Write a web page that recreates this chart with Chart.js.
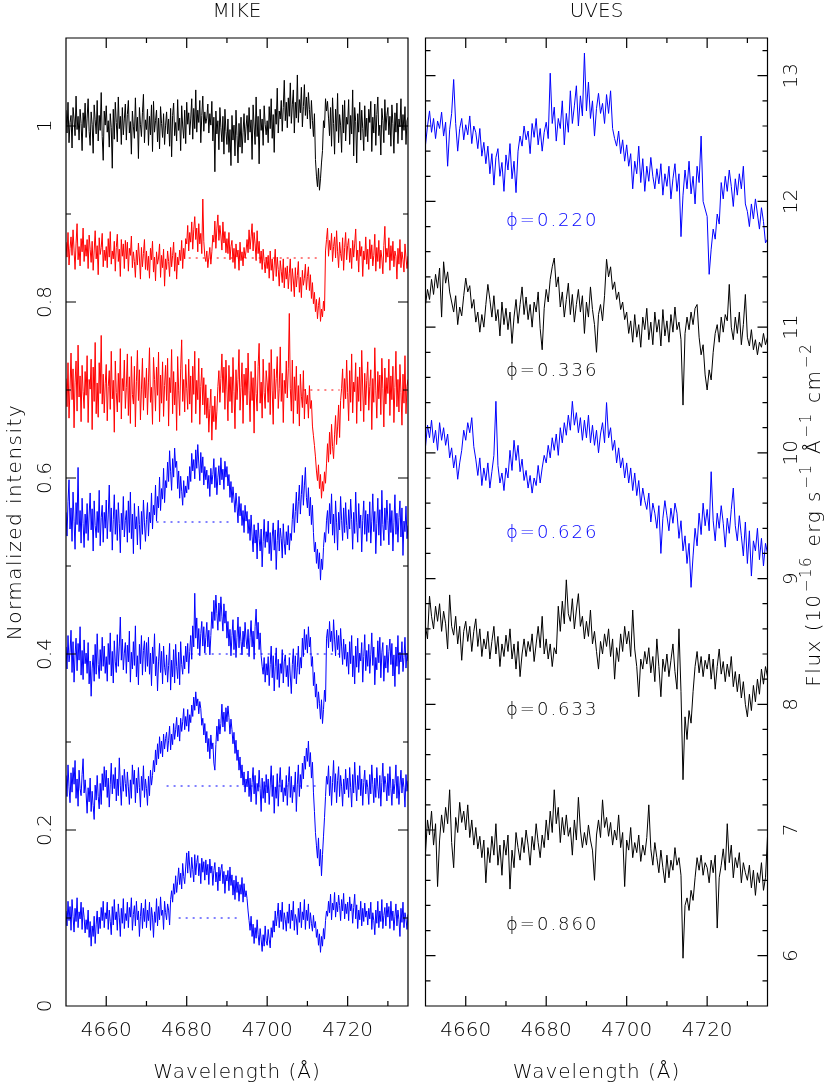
<!DOCTYPE html>
<html><head><meta charset="utf-8">
<script src="https://cdn.jsdelivr.net/npm/chart.js@4.4.1/dist/chart.umd.min.js"></script>
<style>
html,body{margin:0;padding:0;background:#fff;}
#wrap{position:relative;width:830px;height:1085px;}
canvas{position:absolute;left:0;top:0;}
</style></head><body>
<div id="wrap"><canvas id="mike" width="830" height="1085"></canvas><canvas id="uves" width="830" height="1085"></canvas></div>
<script>
// ---------------- DATA ----------------
// MIKE wavelength grid (Angstrom)
const mikeWavelength = [
4650,4650.25,4650.5,4650.75,4651,4651.25,4651.5,4651.75,4652,4652.25,4652.5,4652.75,4653,4653.25,4653.5,4653.75,4654,4654.25,4654.5,4654.75,
4655,4655.25,4655.5,4655.75,4656,4656.25,4656.5,4656.75,4657,4657.25,4657.5,4657.75,4658,4658.25,4658.5,4658.75,4659,4659.25,4659.5,4659.75,
4660,4660.25,4660.5,4660.75,4661,4661.25,4661.5,4661.75,4662,4662.25,4662.5,4662.75,4663,4663.25,4663.5,4663.75,4664,4664.25,4664.5,4664.75,
4665,4665.25,4665.5,4665.75,4666,4666.25,4666.5,4666.75,4667,4667.25,4667.5,4667.75,4668,4668.25,4668.5,4668.75,4669,4669.25,4669.5,4669.75,
4670,4670.25,4670.5,4670.75,4671,4671.25,4671.5,4671.75,4672,4672.25,4672.5,4672.75,4673,4673.25,4673.5,4673.75,4674,4674.25,4674.5,4674.75,
4675,4675.25,4675.5,4675.75,4676,4676.25,4676.5,4676.75,4677,4677.25,4677.5,4677.75,4678,4678.25,4678.5,4678.75,4679,4679.25,4679.5,4679.75,
4680,4680.25,4680.5,4680.75,4681,4681.25,4681.5,4681.75,4682,4682.25,4682.5,4682.75,4683,4683.25,4683.5,4683.75,4684,4684.25,4684.5,4684.75,
4685,4685.25,4685.5,4685.75,4686,4686.25,4686.5,4686.75,4687,4687.25,4687.5,4687.75,4688,4688.25,4688.5,4688.75,4689,4689.25,4689.5,4689.75,
4690,4690.25,4690.5,4690.75,4691,4691.25,4691.5,4691.75,4692,4692.25,4692.5,4692.75,4693,4693.25,4693.5,4693.75,4694,4694.25,4694.5,4694.75,
4695,4695.25,4695.5,4695.75,4696,4696.25,4696.5,4696.75,4697,4697.25,4697.5,4697.75,4698,4698.25,4698.5,4698.75,4699,4699.25,4699.5,4699.75,
4700,4700.25,4700.5,4700.75,4701,4701.25,4701.5,4701.75,4702,4702.25,4702.5,4702.75,4703,4703.25,4703.5,4703.75,4704,4704.25,4704.5,4704.75,
4705,4705.25,4705.5,4705.75,4706,4706.25,4706.5,4706.75,4707,4707.25,4707.5,4707.75,4708,4708.25,4708.5,4708.75,4709,4709.25,4709.5,4709.75,
4710,4710.25,4710.5,4710.75,4711,4711.25,4711.5,4711.75,4712,4712.25,4712.5,4712.75,4713,4713.25,4713.5,4713.75,4714,4714.25,4714.5,4714.75,
4715,4715.25,4715.5,4715.75,4716,4716.25,4716.5,4716.75,4717,4717.25,4717.5,4717.75,4718,4718.25,4718.5,4718.75,4719,4719.25,4719.5,4719.75,
4720,4720.25,4720.5,4720.75,4721,4721.25,4721.5,4721.75,4722,4722.25,4722.5,4722.75,4723,4723.25,4723.5,4723.75,4724,4724.25,4724.5,4724.75,
4725,4725.25,4725.5,4725.75,4726,4726.25,4726.5,4726.75,4727,4727.25,4727.5,4727.75,4728,4728.25,4728.5,4728.75,4729,4729.25,4729.5,4729.75,
4730,4730.25,4730.5,4730.75,4731,4731.25,4731.5,4731.75,4732,4732.25,4732.5,4732.75,4733,4733.25,4733.5,4733.75,4734,4734.25,4734.5,4734.75,
4735];

// MIKE normalized intensity (offset spectra, top to bottom)
const mike1 = [
1.018,0.992,1.027,0.981,1.004,1.012,0.975,1.021,1.008,0.989,1.034,0.996,1.011,0.984,1.019,1.003,0.972,1.015,0.998,1.026,
0.987,1.009,1.031,0.994,0.978,1.016,1.002,0.969,1.024,1.007,0.991,1.029,0.983,1.012,0.995,1.038,0.988,0.961,1.017,1.001,
1.023,0.993,1.006,0.976,1.014,0.998,0.952,1.019,0.985,1.027,1.004,0.982,1.033,0.997,1.011,0.979,1.021,0.990,1.008,1.025,
0.984,1.013,1.029,0.992,1.005,0.968,1.017,0.999,0.986,1.032,0.994,1.010,0.963,1.021,1.002,0.988,1.015,1.036,0.981,1.007,
0.996,1.019,0.978,1.011,0.990,1.024,0.971,1.028,0.993,1.006,1.018,0.982,1.009,0.974,1.022,1.003,0.987,1.014,0.979,1.001,
1.016,0.991,1.008,0.977,1.020,0.965,1.012,1.026,0.989,1.004,0.983,1.030,0.995,1.009,0.972,1.023,1.000,0.986,1.018,0.980,
1.027,1.002,1.015,0.990,1.008,1.031,0.985,1.020,0.997,1.041,0.993,1.018,1.004,1.029,0.981,1.012,1.034,0.994,1.016,1.003,
1.009,1.025,0.992,1.014,1.001,1.028,0.983,1.010,0.948,1.017,0.991,1.006,0.973,1.021,0.998,0.982,1.011,0.968,1.019,0.994,
0.979,1.008,0.970,0.996,0.955,1.012,0.984,1.001,0.966,1.018,0.989,0.958,1.003,0.976,1.010,0.969,0.993,1.014,0.981,0.999,
1.012,0.984,1.021,0.993,1.007,0.962,1.024,1.000,0.979,1.033,0.988,1.011,0.957,1.019,0.995,1.008,0.978,1.023,1.002,0.990,
1.006,0.981,1.022,0.997,1.031,0.986,1.013,0.970,1.019,1.002,1.043,0.992,1.017,1.008,1.029,0.994,1.021,1.052,1.006,1.027,
0.998,1.032,1.011,1.049,1.003,1.024,1.041,0.992,1.027,1.009,1.058,1.004,1.030,1.015,1.044,0.999,1.022,1.047,1.012,1.033,
1.008,1.038,1.019,0.997,1.029,1.006,0.988,1.014,0.962,0.943,0.931,0.952,0.927,0.940,0.958,0.972,1.006,0.998,1.031,1.017,
1.028,1.009,0.989,1.021,0.977,1.032,1.003,0.968,1.019,0.994,1.037,0.981,1.013,1.001,0.970,1.024,0.992,1.029,0.983,1.010,
1.002,1.030,0.979,1.012,0.991,1.041,0.966,1.021,1.005,0.958,1.014,0.993,1.027,0.984,1.018,0.997,0.972,1.023,0.988,1.009,
0.982,1.019,1.004,1.028,0.971,1.010,0.992,1.025,0.978,1.013,1.033,0.989,1.001,0.967,1.020,1.006,0.981,1.030,0.995,1.012,
1.021,0.990,1.011,0.977,1.024,1.003,0.969,1.015,0.993,1.026,0.980,1.008,0.999,1.031,0.984,1.013,0.995,1.022,0.979,1.006,
1.010];
const mike2 = [
0.868,0.851,0.879,0.842,0.861,0.874,0.853,0.882,0.859,0.837,0.866,0.889,0.848,0.863,0.841,0.872,0.857,0.884,0.846,0.865,
0.852,0.871,0.838,0.876,0.860,0.845,0.869,0.836,0.858,0.881,0.849,0.864,0.831,0.873,0.854,0.862,0.878,0.840,0.859,0.847,
0.863,0.839,0.872,0.851,0.880,0.843,0.858,0.849,0.869,0.835,0.862,0.877,0.846,0.860,0.829,0.871,0.852,0.866,0.838,0.870,
0.849,0.868,0.835,0.861,0.853,0.875,0.839,0.857,0.846,0.828,0.859,0.842,0.867,0.850,0.826,0.862,0.840,0.855,0.871,0.837,
0.858,0.836,0.852,0.827,0.861,0.848,0.869,0.834,0.851,0.824,0.857,0.843,0.850,0.866,0.828,0.853,0.839,0.860,0.818,0.849,
0.837,0.858,0.846,0.829,0.862,0.840,0.853,0.868,0.835,0.856,0.826,0.851,0.842,0.859,0.847,0.870,0.838,0.861,0.849,0.872,
0.866,0.887,0.858,0.879,0.868,0.891,0.860,0.882,0.897,0.871,0.884,0.857,0.889,0.866,0.878,0.855,0.917,0.869,0.852,0.846,
0.858,0.839,0.851,0.862,0.843,0.857,0.876,0.868,0.892,0.861,0.884,0.899,0.870,0.887,0.875,0.859,0.891,0.867,0.880,0.856,
0.872,0.855,0.879,0.848,0.863,0.870,0.845,0.861,0.838,0.866,0.851,0.859,0.836,0.868,0.847,0.857,0.841,0.862,0.850,0.858,
0.871,0.856,0.882,0.860,0.874,0.889,0.858,0.879,0.866,0.847,0.881,0.855,0.869,0.844,0.858,0.837,0.860,0.846,0.833,0.851,
0.838,0.853,0.827,0.858,0.836,0.849,0.824,0.842,0.860,0.829,0.851,0.837,0.818,0.847,0.835,0.822,0.849,0.816,0.839,0.826,
0.841,0.815,0.832,0.849,0.812,0.838,0.825,0.806,0.839,0.817,0.830,0.846,0.811,0.828,0.805,0.836,0.819,0.827,0.843,0.814,
0.829,0.840,0.813,0.831,0.804,0.822,0.798,0.811,0.789,0.803,0.781,0.796,0.805,0.778,0.792,0.783,0.801,0.790,0.858,0.871,
0.884,0.852,0.870,0.859,0.878,0.846,0.863,0.874,0.850,0.881,0.857,0.839,0.868,0.855,0.847,0.873,0.836,0.862,0.879,0.848,
0.864,0.872,0.845,0.861,0.838,0.870,0.851,0.866,0.883,0.847,0.859,0.834,0.869,0.852,0.863,0.829,0.858,0.848,0.874,0.843,
0.860,0.837,0.871,0.849,0.865,0.841,0.853,0.877,0.835,0.862,0.846,0.870,0.838,0.859,0.850,0.832,0.864,0.886,0.845,0.861,
0.851,0.873,0.836,0.864,0.847,0.869,0.840,0.858,0.852,0.826,0.861,0.843,0.871,0.839,0.857,0.848,0.834,0.866,0.850,0.838,
0.852];
const mike3 = [
0.713,0.681,0.731,0.668,0.702,0.742,0.689,0.724,0.657,0.709,0.733,0.676,0.751,0.692,0.716,0.664,0.728,0.698,0.679,0.721,
0.694,0.739,0.663,0.712,0.701,0.735,0.655,0.726,0.687,0.754,0.673,0.708,0.669,0.731,0.696,0.762,0.684,0.718,0.674,0.707,
0.729,0.665,0.704,0.722,0.678,0.744,0.690,0.711,0.652,0.733,0.697,0.675,0.719,0.686,0.747,0.667,0.713,0.699,0.734,0.679,
0.703,0.741,0.671,0.715,0.662,0.738,0.695,0.684,0.727,0.658,0.710,0.745,0.688,0.723,0.666,0.701,0.736,0.677,0.714,0.691,
0.725,0.672,0.709,0.748,0.686,0.703,0.661,0.737,0.712,0.676,0.726,0.694,0.743,0.664,0.717,0.685,0.732,0.670,0.705,0.728,
0.688,0.736,0.659,0.714,0.697,0.746,0.673,0.721,0.683,0.709,0.654,0.738,0.699,0.671,0.724,0.757,0.687,0.712,0.675,0.729,
0.702,0.678,0.735,0.684,0.716,0.663,0.727,0.695,0.744,0.673,0.711,0.689,0.736,0.661,0.704,0.725,0.683,0.714,0.672,0.706,
0.668,0.691,0.652,0.679,0.701,0.643,0.682,0.664,0.693,0.655,0.676,0.704,0.722,0.686,0.713,0.741,0.697,0.726,0.678,0.734,
0.701,0.665,0.728,0.687,0.715,0.674,0.737,0.698,0.656,0.723,0.689,0.712,0.746,0.677,0.703,0.731,0.662,0.718,0.694,0.725,
0.683,0.742,0.699,0.664,0.721,0.688,0.714,0.651,0.733,0.696,0.676,0.727,0.753,0.685,0.709,0.668,0.735,0.697,0.679,0.722,
0.708,0.686,0.731,0.672,0.746,0.699,0.661,0.724,0.690,0.713,0.738,0.679,0.702,0.749,0.687,0.719,0.663,0.711,0.696,0.733,
0.691,0.724,0.787,0.702,0.676,0.734,0.662,0.715,0.688,0.727,0.673,0.705,0.659,0.718,0.693,0.680,0.722,0.667,0.701,0.684,
0.694,0.668,0.705,0.679,0.688,0.659,0.648,0.637,0.624,0.608,0.597,0.615,0.588,0.604,0.577,0.596,0.585,0.607,0.594,0.616,
0.639,0.618,0.652,0.627,0.661,0.636,0.622,0.649,0.671,0.638,0.658,0.683,0.646,0.688,0.702,0.724,0.679,0.713,0.690,0.734,
0.697,0.665,0.722,0.686,0.741,0.674,0.709,0.698,0.731,0.662,0.715,0.687,0.726,0.676,0.745,0.700,0.664,0.719,0.683,0.711,
0.732,0.677,0.704,0.723,0.655,0.713,0.686,0.748,0.699,0.668,0.721,0.690,0.717,0.672,0.736,0.702,0.658,0.725,0.684,0.714,
0.696,0.735,0.671,0.716,0.689,0.727,0.663,0.703,0.744,0.681,0.712,0.675,0.729,0.697,0.660,0.718,0.685,0.739,0.673,0.704,
0.712];
const mike4 = [
0.561,0.534,0.573,0.598,0.542,0.566,0.528,0.584,0.551,0.519,0.572,0.547,0.612,0.539,0.563,0.526,0.577,0.548,0.521,0.559,
0.537,0.571,0.529,0.558,0.583,0.541,0.565,0.517,0.574,0.546,0.532,0.562,0.538,0.586,0.523,0.555,0.569,0.527,0.561,0.543,
0.575,0.531,0.558,0.592,0.539,0.566,0.518,0.553,0.581,0.536,0.564,0.529,0.572,0.548,0.515,0.560,0.541,0.579,0.533,0.552,
0.563,0.527,0.574,0.538,0.584,0.531,0.559,0.514,0.571,0.542,0.556,0.524,0.568,0.547,0.519,0.562,0.536,0.575,0.549,0.528,
0.553,0.572,0.534,0.561,0.549,0.583,0.542,0.569,0.558,0.592,0.551,0.579,0.566,0.601,0.563,0.588,0.576,0.611,0.572,0.597,
0.589,0.618,0.596,0.631,0.607,0.586,0.622,0.601,0.634,0.612,0.619,0.588,0.608,0.577,0.602,0.585,0.569,0.597,0.578,0.591,
0.583,0.602,0.587,0.613,0.596,0.628,0.608,0.621,0.599,0.632,0.611,0.638,0.617,0.597,0.629,0.606,0.624,0.592,0.613,0.598,
0.609,0.588,0.603,0.579,0.611,0.593,0.604,0.622,0.589,0.612,0.581,0.601,0.614,0.592,0.623,0.598,0.610,0.587,0.619,0.601,
0.613,0.591,0.604,0.578,0.596,0.572,0.590,0.576,0.561,0.583,0.568,0.549,0.579,0.557,0.571,0.546,0.563,0.538,0.569,0.551,
0.562,0.537,0.553,0.529,0.558,0.534,0.516,0.547,0.526,0.541,0.508,0.549,0.531,0.517,0.542,0.499,0.528,0.553,0.521,0.539,
0.527,0.551,0.514,0.538,0.506,0.533,0.549,0.518,0.541,0.496,0.529,0.552,0.517,0.543,0.531,0.509,0.548,0.526,0.513,0.539,
0.524,0.546,0.518,0.537,0.529,0.553,0.571,0.538,0.562,0.584,0.549,0.573,0.592,0.559,0.581,0.603,0.569,0.591,0.612,0.578,
0.566,0.589,0.557,0.578,0.547,0.569,0.538,0.516,0.527,0.503,0.519,0.497,0.515,0.484,0.508,0.496,0.521,0.538,0.527,0.552,
0.563,0.537,0.571,0.548,0.582,0.535,0.559,0.526,0.574,0.549,0.518,0.561,0.541,0.579,0.552,0.529,0.566,0.538,0.572,0.546,
0.531,0.564,0.542,0.576,0.553,0.519,0.561,0.537,0.584,0.549,0.527,0.571,0.543,0.558,0.516,0.552,0.574,0.536,0.563,0.528,
0.559,0.538,0.573,0.526,0.551,0.582,0.539,0.562,0.514,0.548,0.577,0.535,0.564,0.523,0.586,0.547,0.529,0.566,0.541,0.575,
0.552,0.524,0.571,0.538,0.563,0.517,0.549,0.581,0.536,0.560,0.527,0.555,0.574,0.533,0.566,0.512,0.551,0.539,0.568,0.531,
0.546];
const mike5 = [
0.408,0.383,0.421,0.391,0.402,0.427,0.379,0.414,0.368,0.399,0.418,0.381,0.412,0.393,0.431,0.376,0.404,0.371,0.416,0.389,
0.401,0.378,0.413,0.366,0.392,0.352,0.384,0.399,0.369,0.411,0.377,0.423,0.388,0.372,0.405,0.381,0.419,0.386,0.409,0.378,
0.397,0.369,0.412,0.388,0.424,0.375,0.403,0.367,0.415,0.391,0.379,0.422,0.386,0.409,0.442,0.393,0.417,0.382,0.401,0.413,
0.378,0.410,0.391,0.426,0.368,0.402,0.383,0.414,0.387,0.432,0.374,0.398,0.365,0.411,0.389,0.421,0.376,0.404,0.415,0.380,
0.413,0.386,0.419,0.377,0.401,0.364,0.408,0.389,0.423,0.375,0.397,0.358,0.391,0.412,0.379,0.403,0.366,0.409,0.385,0.376,
0.399,0.368,0.387,0.412,0.359,0.393,0.374,0.405,0.367,0.411,0.386,0.372,0.402,0.365,0.414,0.388,0.377,0.398,0.383,0.409,
0.391,0.412,0.378,0.403,0.421,0.394,0.432,0.408,0.469,0.418,0.441,0.406,0.429,0.398,0.423,0.437,0.409,0.431,0.401,0.419,
0.436,0.408,0.427,0.399,0.421,0.448,0.429,0.461,0.438,0.467,0.446,0.427,0.458,0.437,0.465,0.443,0.426,0.457,0.435,0.449,
0.418,0.437,0.409,0.428,0.398,0.421,0.439,0.405,0.427,0.396,0.419,0.442,0.407,0.431,0.414,0.399,0.426,0.408,0.436,0.417,
0.406,0.428,0.397,0.419,0.438,0.408,0.426,0.394,0.431,0.451,0.417,0.436,0.405,0.424,0.398,0.386,0.377,0.396,0.368,0.389,
0.376,0.397,0.364,0.388,0.409,0.373,0.398,0.358,0.386,0.407,0.371,0.394,0.362,0.389,0.378,0.405,0.367,0.391,0.399,0.374,
0.387,0.363,0.396,0.375,0.355,0.388,0.406,0.372,0.398,0.366,0.385,0.409,0.377,0.396,0.384,0.418,0.397,0.428,0.405,0.422,
0.401,0.431,0.408,0.419,0.386,0.397,0.364,0.379,0.351,0.366,0.338,0.357,0.344,0.326,0.348,0.321,0.337,0.359,0.346,0.418,
0.428,0.407,0.437,0.414,0.426,0.403,0.439,0.416,0.398,0.427,0.405,0.421,0.396,0.429,0.408,0.388,0.417,0.394,0.411,0.386,
0.402,0.377,0.414,0.389,0.421,0.374,0.398,0.366,0.409,0.385,0.418,0.379,0.401,0.392,0.413,0.368,0.397,0.422,0.381,0.404,
0.386,0.411,0.378,0.399,0.424,0.387,0.408,0.365,0.396,0.382,0.415,0.390,0.419,0.373,0.402,0.413,0.369,0.398,0.384,0.410,
0.379,0.403,0.417,0.388,0.412,0.375,0.399,0.363,0.408,0.386,0.421,0.377,0.402,0.391,0.414,0.380,0.396,0.419,0.384,0.401,
0.392];
const mike6 = [
0.262,0.238,0.274,0.249,0.231,0.265,0.243,0.271,0.252,0.279,0.236,0.258,0.227,0.268,0.247,0.239,0.263,0.281,0.242,0.257,
0.241,0.219,0.248,0.232,0.259,0.221,0.244,0.228,0.212,0.251,0.234,0.262,0.238,0.224,0.253,0.229,0.264,0.245,0.272,0.249,
0.268,0.237,0.259,0.226,0.252,0.276,0.241,0.263,0.247,0.271,0.233,0.258,0.239,0.282,0.251,0.228,0.262,0.244,0.269,0.253,
0.238,0.266,0.249,0.229,0.257,0.236,0.274,0.252,0.268,0.231,0.259,0.242,0.271,0.248,0.226,0.261,0.245,0.273,0.237,0.258,
0.247,0.228,0.261,0.239,0.268,0.251,0.262,0.279,0.266,0.291,0.274,0.298,0.281,0.306,0.287,0.301,0.283,0.309,0.292,0.304,
0.311,0.289,0.302,0.318,0.291,0.309,0.297,0.321,0.303,0.314,0.328,0.306,0.319,0.301,0.327,0.312,0.323,0.338,0.314,0.329,
0.318,0.337,0.312,0.331,0.322,0.342,0.329,0.351,0.336,0.357,0.341,0.349,0.332,0.346,0.338,0.319,0.327,0.308,0.321,0.299,
0.312,0.289,0.304,0.281,0.308,0.292,0.299,0.276,0.268,0.297,0.318,0.301,0.326,0.309,0.321,0.343,0.317,0.334,0.312,0.339,
0.323,0.341,0.328,0.309,0.326,0.314,0.298,0.311,0.287,0.302,0.279,0.291,0.268,0.283,0.259,0.274,0.251,0.266,0.243,0.258,
0.249,0.267,0.238,0.259,0.232,0.254,0.271,0.241,0.262,0.229,0.253,0.244,0.268,0.247,0.221,0.259,0.236,0.255,0.231,0.263,
0.242,0.258,0.229,0.251,0.273,0.238,0.262,0.219,0.249,0.236,0.264,0.227,0.253,0.271,0.243,0.257,0.232,0.248,0.239,0.262,
0.228,0.254,0.272,0.237,0.261,0.231,0.249,0.243,0.266,0.221,0.252,0.274,0.238,0.263,0.247,0.276,0.258,0.284,0.269,0.293,
0.278,0.301,0.272,0.288,0.259,0.277,0.243,0.221,0.197,0.182,0.168,0.191,0.159,0.178,0.148,0.172,0.193,0.214,0.238,0.261,
0.252,0.273,0.239,0.261,0.228,0.254,0.279,0.243,0.264,0.231,0.256,0.272,0.238,0.262,0.249,0.227,0.258,0.241,0.269,0.246,
0.259,0.237,0.271,0.248,0.226,0.263,0.242,0.277,0.251,0.233,0.262,0.246,0.273,0.239,0.258,0.228,0.254,0.268,0.241,0.257,
0.248,0.229,0.263,0.241,0.274,0.252,0.231,0.259,0.237,0.271,0.249,0.236,0.262,0.227,0.254,0.276,0.243,0.261,0.252,0.233,
0.264,0.239,0.272,0.247,0.228,0.258,0.241,0.253,0.274,0.236,0.261,0.229,0.251,0.268,0.242,0.259,0.248,0.226,0.263,0.244,
0.256];
const mike7 = [
0.108,0.091,0.119,0.097,0.113,0.086,0.121,0.102,0.084,0.111,0.096,0.123,0.089,0.107,0.099,0.118,0.087,0.112,0.101,0.083,
0.098,0.087,0.109,0.078,0.096,0.068,0.091,0.079,0.102,0.071,0.093,0.108,0.082,0.101,0.088,0.112,0.097,0.119,0.089,0.106,
0.099,0.118,0.087,0.109,0.096,0.081,0.113,0.092,0.121,0.098,0.107,0.086,0.116,0.101,0.079,0.111,0.094,0.122,0.088,0.105,
0.097,0.118,0.089,0.112,0.101,0.123,0.086,0.104,0.114,0.091,0.119,0.098,0.108,0.079,0.102,0.117,0.088,0.111,0.096,0.121,
0.089,0.109,0.097,0.118,0.086,0.112,0.101,0.078,0.107,0.095,0.122,0.091,0.113,0.098,0.124,0.103,0.109,0.087,0.119,0.106,
0.098,0.116,0.109,0.092,0.121,0.131,0.118,0.139,0.127,0.148,0.129,0.141,0.157,0.138,0.151,0.133,0.162,0.147,0.139,0.158,
0.174,0.151,0.176,0.158,0.146,0.169,0.155,0.141,0.172,0.149,0.163,0.171,0.148,0.162,0.139,0.168,0.152,0.164,0.143,0.166,
0.149,0.161,0.138,0.167,0.151,0.159,0.137,0.154,0.163,0.141,0.152,0.131,0.158,0.142,0.155,0.161,0.139,0.153,0.128,0.149,
0.142,0.154,0.131,0.158,0.137,0.149,0.126,0.143,0.121,0.148,0.129,0.141,0.119,0.138,0.127,0.146,0.118,0.139,0.124,0.131,
0.122,0.108,0.097,0.086,0.102,0.079,0.093,0.071,0.089,0.077,0.098,0.081,0.069,0.088,0.076,0.062,0.081,0.068,0.091,0.074,
0.069,0.087,0.076,0.066,0.089,0.078,0.097,0.084,0.108,0.091,0.102,0.117,0.089,0.109,0.096,0.118,0.087,0.106,0.098,0.085,
0.107,0.094,0.116,0.088,0.109,0.097,0.119,0.086,0.104,0.099,0.081,0.111,0.095,0.118,0.089,0.107,0.098,0.121,0.087,0.109,
0.097,0.116,0.088,0.106,0.094,0.085,0.103,0.089,0.096,0.078,0.087,0.069,0.082,0.061,0.079,0.068,0.088,0.076,0.097,0.108,
0.102,0.119,0.106,0.127,0.098,0.117,0.109,0.129,0.101,0.118,0.107,0.126,0.114,0.097,0.121,0.108,0.128,0.099,0.116,0.105,
0.118,0.097,0.124,0.108,0.116,0.094,0.112,0.127,0.099,0.115,0.088,0.109,0.098,0.119,0.091,0.111,0.096,0.117,0.101,0.108,
0.092,0.111,0.099,0.118,0.087,0.106,0.097,0.081,0.109,0.094,0.119,0.089,0.108,0.096,0.121,0.088,0.103,0.112,0.091,0.117,
0.101,0.113,0.088,0.119,0.097,0.108,0.086,0.102,0.116,0.091,0.109,0.098,0.079,0.111,0.095,0.118,0.089,0.106,0.099,0.087,
0.104];

// MIKE continuum reference (dotted) lines
const mikeDotLevel = [0.85, 0.70, 0.55, 0.40, 0.25, 0.10];
const mikeDotFrom  = [4680.5, 4709, 4672.5, 4681, 4675, 4678];
const mikeDotTo    = [4712.5, 4718, 4690.5, 4718, 4712.5, 4693];

// UVES wavelength grid (Angstrom)
const uvesWavelength = [
4650,4650.5,4651,4651.5,4652,4652.5,4653,4653.5,4654,4654.5,
4655,4655.5,4656,4656.5,4657,4657.5,4658,4658.5,4659,4659.5,
4660,4660.5,4661,4661.5,4662,4662.5,4663,4663.5,4664,4664.5,
4665,4665.5,4666,4666.5,4667,4667.5,4668,4668.5,4669,4669.5,
4670,4670.5,4671,4671.5,4672,4672.5,4673,4673.5,4674,4674.5,
4675,4675.5,4676,4676.5,4677,4677.5,4678,4678.5,4679,4679.5,
4680,4680.5,4681,4681.5,4682,4682.5,4683,4683.5,4684,4684.5,
4685,4685.5,4686,4686.5,4687,4687.5,4688,4688.5,4689,4689.5,
4690,4690.5,4691,4691.5,4692,4692.5,4693,4693.5,4694,4694.5,
4695,4695.5,4696,4696.5,4697,4697.5,4698,4698.5,4699,4699.5,
4700,4700.5,4701,4701.5,4702,4702.5,4703,4703.5,4704,4704.5,
4705,4705.5,4706,4706.5,4707,4707.5,4708,4708.5,4709,4709.5,
4710,4710.5,4711,4711.5,4712,4712.5,4713,4713.5,4714,4714.5,
4715,4715.5,4716,4716.5,4717,4717.5,4718,4718.5,4719,4719.5,
4720,4720.5,4721,4721.5,4722,4722.5,4723,4723.5,4724,4724.5,
4725,4725.5,4726,4726.5,4727,4727.5,4728,4728.5,4729,4729.5,
4730,4730.5,4731,4731.5,4732,4732.5,4733,4733.5,4734,4734.5,
4735];

// UVES flux (1e-16 erg s-1 A-1 cm-2)
const uves1 = [
12.45,12.60,12.72,12.55,12.66,12.50,12.64,12.58,12.71,12.52,
12.63,12.28,12.57,12.70,12.97,12.62,12.40,12.58,12.66,12.49,
12.61,12.53,12.68,12.46,12.60,12.55,12.42,12.58,12.36,12.47,
12.30,12.44,12.22,12.38,12.13,12.35,12.42,12.20,12.31,12.08,
12.37,12.25,12.46,12.18,12.32,12.07,12.40,12.52,12.44,12.60,
12.49,12.56,12.38,12.62,12.51,12.66,12.45,12.58,12.40,12.55,
12.63,12.50,13.02,12.62,12.75,12.48,12.66,12.58,12.80,12.45,
12.70,12.55,12.88,12.62,12.76,12.92,12.60,12.84,12.68,13.18,
12.72,12.95,12.66,12.80,12.52,12.74,12.86,12.70,12.78,12.62,
12.85,12.70,12.88,12.58,12.50,12.44,12.56,12.38,12.49,12.32,
12.45,12.28,12.38,12.10,12.32,12.22,12.44,12.15,12.34,12.08,
12.28,12.16,12.35,12.20,12.10,12.26,12.14,12.30,12.05,12.22,
12.12,12.28,12.02,12.18,12.30,12.08,12.22,11.72,12.05,12.25,
12.10,12.32,12.06,12.20,11.98,12.28,12.15,12.52,12.00,11.94,
11.88,11.42,11.62,11.78,11.70,11.90,11.82,12.15,12.02,12.20,
12.08,12.25,12.12,11.96,12.18,12.05,12.22,12.10,12.28,11.98,
11.92,11.80,11.98,11.86,12.02,11.90,11.78,11.95,11.84,11.67,
11.70];
const uves2 = [
11.18,11.30,11.22,11.38,11.26,11.42,11.31,11.47,11.08,11.52,
11.35,11.44,11.28,11.20,11.12,11.25,11.02,11.16,11.09,11.25,
11.39,11.28,11.33,11.15,11.22,11.04,11.12,10.96,11.10,11.00,
11.18,11.34,11.22,11.08,11.25,11.05,11.14,10.93,11.20,11.02,
11.15,10.98,11.12,10.87,11.08,11.22,11.03,11.18,11.32,11.10,
11.24,11.06,11.18,11.00,11.20,11.12,11.28,10.99,10.82,11.15,
11.30,11.20,11.38,11.48,11.55,11.32,11.40,11.16,11.28,11.08,
11.22,11.35,11.10,11.26,11.04,11.18,11.30,11.12,11.25,10.95,
11.20,11.08,11.32,11.14,11.02,10.80,11.10,11.18,11.05,11.25,
11.54,11.40,11.48,11.30,11.36,11.22,11.28,11.14,11.20,11.06,
11.12,10.95,11.05,10.88,11.10,10.92,11.02,10.84,11.08,10.98,
11.15,10.90,11.04,10.86,11.12,10.96,11.06,10.85,11.14,10.93,
11.05,10.88,11.10,10.96,11.16,10.98,11.04,10.90,10.38,10.95,
11.08,10.98,11.12,11.02,11.15,11.18,10.92,10.78,10.86,10.62,
10.50,10.66,10.58,10.80,10.95,11.02,10.88,11.08,10.96,11.10,
11.05,11.34,11.00,10.90,11.08,10.95,11.12,10.86,11.02,11.26,
10.92,10.85,10.98,10.82,10.90,10.78,10.88,10.84,10.95,10.86,
10.92];
const uves3 = [
10.05,10.22,10.12,10.26,10.08,10.18,10.02,10.24,10.10,10.20,
10.06,10.15,9.96,10.04,9.88,9.98,9.79,9.92,10.02,10.18,
10.10,10.24,10.16,10.28,10.05,9.95,9.82,9.96,9.74,9.88,
9.78,9.92,9.72,9.85,9.98,10.41,9.90,9.76,9.84,9.70,
9.88,9.80,10.02,9.86,10.10,9.94,10.06,9.85,9.95,9.78,
9.86,9.72,9.82,9.68,9.80,9.74,9.90,9.76,9.88,9.98,
9.92,10.06,9.96,10.12,10.02,10.15,9.98,10.20,10.08,10.24,
10.14,10.30,10.18,10.41,10.22,10.32,10.16,10.28,10.10,10.26,
10.12,10.30,10.08,10.22,10.06,10.18,10.00,10.15,10.24,10.08,
10.40,10.12,10.20,10.02,10.10,9.92,10.04,9.88,9.96,9.80,
9.92,9.76,9.88,9.70,9.84,9.66,9.78,9.58,9.72,9.62,
9.55,9.68,9.45,9.60,9.52,9.40,9.58,9.20,9.48,9.62,
9.50,9.38,9.56,9.44,9.60,9.52,9.32,9.46,9.22,9.34,
9.12,9.28,8.93,9.18,9.40,9.26,9.52,9.35,9.60,9.42,
9.55,9.38,9.85,9.46,9.30,9.52,9.40,9.58,9.44,9.25,
9.48,9.36,9.55,9.72,9.42,9.30,9.50,9.34,9.18,9.45,
9.12,9.38,9.02,9.30,9.22,9.40,9.15,9.32,9.10,9.28,
9.20];
const uves4 = [
8.62,8.52,8.86,8.70,8.60,8.78,8.66,8.80,8.58,8.74,
8.64,8.44,8.87,8.62,8.55,8.70,8.48,8.62,8.35,8.58,
8.66,8.50,8.62,8.42,8.58,8.68,8.46,8.60,8.38,8.52,
8.44,8.58,8.36,8.50,8.62,8.40,8.54,8.30,8.48,8.38,
8.55,8.42,8.60,8.36,8.48,8.28,8.50,8.22,8.40,8.52,
8.38,8.50,8.42,8.56,8.34,8.48,8.62,8.45,8.70,8.40,
8.52,8.36,8.48,8.30,8.45,8.40,8.78,8.58,8.82,8.64,
8.99,8.72,8.66,8.84,8.60,8.75,8.88,8.62,8.70,8.52,
8.66,8.54,8.75,8.48,8.58,8.42,8.28,8.50,8.40,8.56,
8.46,8.60,8.38,8.52,8.20,8.45,8.34,8.56,8.42,8.62,
8.48,8.58,8.38,8.75,8.44,8.30,8.06,8.36,8.28,8.42,
8.32,8.45,8.25,8.38,8.18,8.52,8.30,8.06,8.36,8.26,
8.40,8.22,8.35,8.48,8.26,8.12,8.60,8.10,7.40,7.90,
7.72,7.95,7.85,8.10,8.30,8.42,8.25,8.38,8.22,8.35,
8.28,8.40,8.20,8.36,8.12,8.30,8.44,8.24,8.34,8.18,
8.32,8.22,8.38,8.14,8.26,8.10,8.24,8.05,8.18,8.00,
7.90,8.08,7.95,8.15,8.02,8.20,8.08,8.28,8.16,8.30,
8.22];
const uves5 = [
6.82,7.08,6.96,7.15,6.88,7.05,6.55,6.92,7.12,6.98,
7.18,7.05,7.32,6.90,6.70,7.10,6.98,7.22,7.06,7.15,
7.00,7.20,6.94,7.08,6.88,7.02,6.85,6.95,6.78,6.92,
6.58,6.86,6.74,6.95,6.80,7.05,6.72,6.88,6.64,6.92,
6.80,6.96,6.53,6.84,6.70,6.98,6.86,6.76,6.94,6.82,
7.00,6.88,6.72,6.95,6.84,7.05,6.90,6.78,6.96,6.86,
7.08,6.92,7.15,6.98,7.32,7.05,7.18,6.90,7.10,6.96,
7.12,6.95,7.02,6.80,7.08,6.92,7.26,7.00,6.86,6.98,
6.88,7.04,6.92,6.84,6.60,6.96,7.08,6.94,7.24,7.02,
7.10,6.95,7.06,6.88,7.00,6.92,7.12,6.86,6.98,6.55,
6.92,6.84,7.02,6.78,6.90,6.82,6.96,6.75,6.88,6.80,
6.94,7.20,6.85,6.72,6.90,6.78,6.66,6.84,6.70,6.58,
6.80,6.62,6.76,6.68,6.86,6.72,6.78,6.64,5.98,6.40,
6.46,6.36,6.52,6.44,6.62,6.78,6.68,6.80,6.64,6.74,
6.70,6.58,6.76,6.66,6.80,6.22,6.62,6.72,6.85,6.68,
7.05,6.74,6.88,6.62,6.78,6.70,6.82,6.58,6.74,6.66,
6.60,6.72,6.54,6.68,6.48,6.66,6.58,6.74,6.52,6.62,
6.95];

// Axis ticks and labels
const xMajorTicks = [4660, 4680, 4700, 4720];
const xMinorTicks = [4670, 4690, 4710, 4730];
const xTickLabels = ['4660', '4680', '4700', '4720'];
const mikeYMajor = [0, 0.2, 0.4, 0.6, 0.8, 1.0];
const mikeYMinor = [0.1, 0.3, 0.5, 0.7, 0.9];
const mikeYLabels = ['0', '0.2', '0.4', '0.6', '0.8', '1'];
const uvesYMajor = [6, 7, 8, 9, 10, 11, 12, 13];
const uvesYMinor = [5.8,6.2,6.4,6.6,6.8,7.2,7.4,7.6,7.8,8.2,8.4,8.6,8.8,9.2,9.4,9.6,9.8,
  10.2,10.4,10.6,10.8,11.2,11.4,11.6,11.8,12.2,12.4,12.6,12.8,13.2];
const uvesYLabels = ['6', '7', '8', '9', '10', '11', '12', '13'];

// Phase annotations (UVES)
const phaseLabels = ['\u03D5=0.220', '\u03D5=0.336', '\u03D5=0.626', '\u03D5=0.633', '\u03D5=0.860'];
const phaseLabelX = [4670, 4670, 4670, 4670, 4670];
const phaseLabelY = [11.84, 10.65, 9.36, 7.95, 6.24];

// ---------------- DRAWING ----------------
const BLACK = '#000000', RED = '#ff0000', BLUE = '#0000ff';
const FAMILY = "'DejaVu Sans', 'Liberation Sans', Arial, sans-serif";
const fnt = (s) => `200 ${s}px ${FAMILY}`;
const hasLS = (ctx) => ('letterSpacing' in ctx);

function pts(xs, ys) { return ys.map((v, i) => ({ x: xs[i], y: v })); }

function rotText(ctx, text, x, y, spacing) {
  ctx.save();
  ctx.translate(x, y);
  ctx.rotate(-Math.PI / 2);
  ctx.textAlign = 'center';
  ctx.textBaseline = 'alphabetic';
  if (spacing && hasLS(ctx)) ctx.letterSpacing = spacing;
  ctx.fillText(text, 0, 0);
  ctx.restore();
}

const pgAxes = {
  id: 'pgAxes',
  afterDraw(chart, _args, o) {
    const ctx = chart.ctx, a = chart.chartArea, xs = chart.scales.x, ys = chart.scales.y;
    ctx.save();
    ctx.strokeStyle = BLACK; ctx.fillStyle = BLACK; ctx.lineWidth = 1.2;
    ctx.beginPath();
    ctx.rect(a.left, a.top, a.right - a.left, a.bottom - a.top);
    const xt = (vals, len) => vals.forEach(v => {
      const p = xs.getPixelForValue(v);
      ctx.moveTo(p, a.bottom); ctx.lineTo(p, a.bottom - len);
      ctx.moveTo(p, a.top); ctx.lineTo(p, a.top + len);
    });
    const yt = (vals, len) => vals.forEach(v => {
      const p = ys.getPixelForValue(v);
      ctx.moveTo(a.left, p); ctx.lineTo(a.left + len, p);
      ctx.moveTo(a.right, p); ctx.lineTo(a.right - len, p);
    });
    xt(o.xMajor, 10); xt(o.xMinor, 5); yt(o.yMajor, 10); yt(o.yMinor, 5);
    ctx.stroke();

    ctx.font = fnt(20); ctx.textAlign = 'center'; ctx.textBaseline = 'alphabetic';
    o.xMajor.forEach((v, i) => ctx.fillText(o.xLabels[i], xs.getPixelForValue(v), a.bottom + 30));
    const cx = (a.left + a.right) / 2;
    ctx.fillText(o.title, cx, 17);
    if (hasLS(ctx)) ctx.letterSpacing = '1px';
    ctx.fillText(o.xTitle, cx, 1078);
    if (hasLS(ctx)) ctx.letterSpacing = '0px';
    const lx = o.side === 'left' ? a.left - 15 : a.right + 29.5;
    o.yMajor.forEach((v, i) => rotText(ctx, o.yLabels[i], lx, ys.getPixelForValue(v)));

    const cy = (a.top + a.bottom) / 2;
    if (o.yTitle) rotText(ctx, o.yTitle, 21, cy, '1.5px');
    if (o.fluxTitle) {
      const segs = o.fluxTitle;
      ctx.save();
      if (hasLS(ctx)) ctx.letterSpacing = '1.5px';
      let total = 0;
      segs.forEach(s => { ctx.font = fnt(s[1] ? 15 : 20); total += ctx.measureText(s[0]).width + (s[1] ? 3 : 0); });
      ctx.translate(820, cy - 8);
      ctx.rotate(-Math.PI / 2);
      ctx.textAlign = 'left';
      let xpos = -total / 2;
      segs.forEach(s => {
        ctx.font = fnt(s[1] ? 15 : 20);
        ctx.fillText(s[0], xpos + (s[1] ? 1.5 : 0), s[1] ? -9 : 0);
        xpos += ctx.measureText(s[0]).width + (s[1] ? 3 : 0);
      });
      ctx.restore();
    }
    if (o.phase) {
      ctx.font = fnt(18);
      ctx.textAlign = 'left'; ctx.textBaseline = 'middle';
      if (hasLS(ctx)) ctx.letterSpacing = '2px';
      o.phase.labels.forEach((t, i) => {
        ctx.fillStyle = o.phase.colors[i];
        ctx.fillText(t, xs.getPixelForValue(o.phase.x[i]), ys.getPixelForValue(o.phase.y[i]));
      });
      if (hasLS(ctx)) ctx.letterSpacing = '0px';
    }
    ctx.restore();
  }
};

function lineDs(xs, data, color) {
  return { data: pts(xs, data), borderColor: color, borderWidth: 1, pointRadius: 0, tension: 0, fill: false };
}

const mikeColors = [BLACK, RED, RED, BLUE, BLUE, BLUE, BLUE];
const mikeSpectra = [mike1, mike2, mike3, mike4, mike5, mike6, mike7];
const dotColors = [RED, RED, BLUE, BLUE, BLUE, BLUE];

const mikeDatasets = mikeSpectra.map((s, k) => lineDs(mikeWavelength, s, mikeColors[k]));
mikeDotLevel.forEach((lv, k) => {
  mikeDatasets.push({
    data: [{ x: mikeDotFrom[k], y: lv }, { x: mikeDotTo[k], y: lv }],
    borderColor: dotColors[k], borderWidth: 1, borderDash: [2, 5], pointRadius: 0, fill: false
  });
});

const common = {
  responsive: false, animation: false, devicePixelRatio: 1, events: [],
  plugins: { legend: { display: false }, tooltip: { enabled: false } }
};

new Chart(document.getElementById('mike'), {
  type: 'line',
  data: { datasets: mikeDatasets },
  options: Object.assign({}, common, {
    layout: { padding: { left: 66, top: 38, right: 422, bottom: 79 } },
    scales: {
      x: { type: 'linear', min: 4650, max: 4735, display: false },
      y: { type: 'linear', min: 0, max: 1.1, display: false }
    },
    plugins: Object.assign({}, common.plugins, {
      pgAxes: {
        xMajor: xMajorTicks, xMinor: xMinorTicks, xLabels: xTickLabels,
        yMajor: mikeYMajor, yMinor: mikeYMinor, yLabels: mikeYLabels, side: 'left',
        title: 'MIKE', xTitle: 'Wavelength (\u00C5)', yTitle: 'Normalized intensity'
      }
    })
  }),
  plugins: [pgAxes]
});

const uvesColors = [BLUE, BLACK, BLUE, BLACK, BLACK];
const uvesSpectra = [uves1, uves2, uves3, uves4, uves5];

new Chart(document.getElementById('uves'), {
  type: 'line',
  data: { datasets: uvesSpectra.map((s, k) => lineDs(uvesWavelength, s, uvesColors[k])) },
  options: Object.assign({}, common, {
    layout: { padding: { left: 425.5, top: 38, right: 62.5, bottom: 79 } },
    scales: {
      x: { type: 'linear', min: 4650, max: 4735, display: false },
      y: { type: 'linear', min: 5.6, max: 13.3, display: false }
    },
    plugins: Object.assign({}, common.plugins, {
      pgAxes: {
        xMajor: xMajorTicks, xMinor: xMinorTicks, xLabels: xTickLabels,
        yMajor: uvesYMajor, yMinor: uvesYMinor, yLabels: uvesYLabels, side: 'right',
        title: 'UVES', xTitle: 'Wavelength (\u00C5)',
        fluxTitle: [['Flux (10', 0], ['\u221216', 1], [' erg s', 0], ['\u22121', 1], [' \u00C5', 0], ['\u22121', 1], [' cm', 0], ['\u22122', 1]],
        phase: { labels: phaseLabels, x: phaseLabelX, y: phaseLabelY,
                 colors: [BLUE, BLACK, BLUE, BLACK, BLACK] }
      }
    })
  }),
  plugins: [pgAxes]
});
</script>
</body></html>
